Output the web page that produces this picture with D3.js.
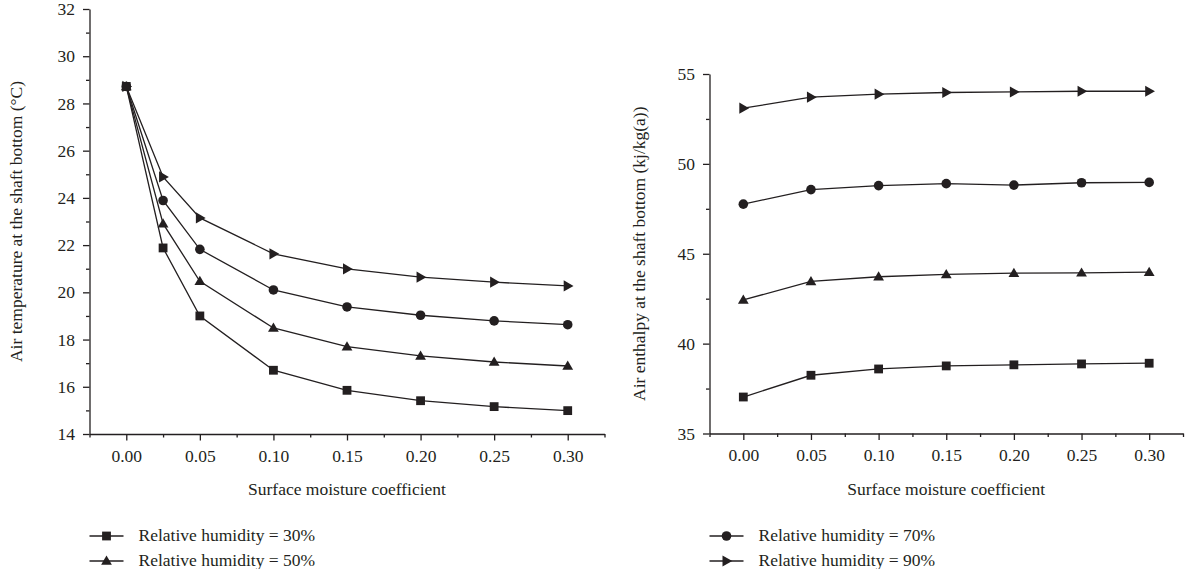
<!DOCTYPE html>
<html>
<head>
<meta charset="utf-8">
<script src="https://cdn.jsdelivr.net/npm/d3@7"></script>
<style>
  html, body { margin: 0; padding: 0; background: #fff; }
  svg { display: block; }
  text { font-family: "Liberation Serif", "Times New Roman", serif; fill: #231f20; }
</style>
</head>
<body>
<svg id="chart" width="1186" height="569"></svg>
<script>
// Surface moisture coefficient values
const moistureLeft = [0, 0.025, 0.05, 0.10, 0.15, 0.20, 0.25, 0.30];
const moistureRight = [0, 0.05, 0.10, 0.15, 0.20, 0.25, 0.30];

// Air temperature at the shaft bottom (°C)
const temp30 = [28.72, 21.88, 19.00, 16.70, 15.85, 15.41, 15.16, 14.99];
const temp50 = [28.72, 22.91, 20.47, 18.49, 17.70, 17.31, 17.05, 16.88];
const temp70 = [28.72, 23.89, 21.82, 20.10, 19.38, 19.03, 18.79, 18.63];
const temp90 = [28.72, 24.89, 23.15, 21.63, 20.99, 20.64, 20.43, 20.27];

// Air enthalpy at the shaft bottom (kj/kg(a))
const enth30 = [37.03, 38.24, 38.59, 38.76, 38.82, 38.87, 38.91];
const enth50 = [42.43, 43.46, 43.72, 43.85, 43.92, 43.94, 43.98];
const enth70 = [47.76, 48.57, 48.79, 48.90, 48.82, 48.95, 48.97];
const enth90 = [53.10, 53.71, 53.88, 53.97, 54.00, 54.04, 54.04];

const xTicks = [0, 0.05, 0.10, 0.15, 0.20, 0.25, 0.30];
const tempTicks = [14, 16, 18, 20, 22, 24, 26, 28, 30, 32];
const enthTicks = [35, 40, 45, 50, 55];

const seriesNames = ["Relative humidity = 30%", "Relative humidity = 50%",
                     "Relative humidity = 70%", "Relative humidity = 90%"];
const markerKinds = ["square", "triangle", "circle", "triangleRight"];

const svg = d3.select("#chart");
const ink = "#231f20";
const fontSize = 17.5;

function drawMarker(g, kind, x, y) {
  if (kind === "square") {
    g.append("rect").attr("x", x - 4.4).attr("y", y - 4.4)
      .attr("width", 8.8).attr("height", 8.8).attr("fill", ink);
  } else if (kind === "circle") {
    g.append("circle").attr("cx", x).attr("cy", y).attr("r", 4.8).attr("fill", ink);
  } else if (kind === "triangle") {
    g.append("path")
      .attr("d", `M${x},${y - 5.4}L${x + 5.4},${y + 3.8}L${x - 5.4},${y + 3.8}Z`)
      .attr("fill", ink);
  } else {
    g.append("path")
      .attr("d", `M${x + 5.8},${y}L${x - 4},${y - 5.6}L${x - 4},${y + 5.6}Z`)
      .attr("fill", ink);
  }
}

function panel(opts) {
  const { left, right, top, bottom, yDomain, yTicks, yMinor, xs, series, yTitle, yTitleX } = opts;
  const x = d3.scaleLinear().domain([-0.025, 0.325]).range([left, right]);
  const y = d3.scaleLinear().domain(yDomain).range([bottom, top]);
  const g = svg.append("g");

  // minor ticks
  const xMinor = d3.range(-0.025, 0.33, 0.05);
  g.append("g").attr("transform", `translate(0,${bottom})`)
    .call(d3.axisBottom(x).tickValues(xMinor).tickSize(3.5).tickFormat(""))
    .call(a => a.select(".domain").remove());
  g.append("g").attr("transform", `translate(${left},0)`)
    .call(d3.axisLeft(y).tickValues(yMinor).tickSize(3.5).tickFormat(""))
    .call(a => a.select(".domain").remove());

  // major axes
  const xa = g.append("g").attr("transform", `translate(0,${bottom})`)
    .call(d3.axisBottom(x).tickValues(xTicks).tickSize(6.5).tickSizeOuter(0)
      .tickPadding(9).tickFormat(d3.format(".2f")));
  const ya = g.append("g").attr("transform", `translate(${left},0)`)
    .call(d3.axisLeft(y).tickValues(yTicks).tickSize(6.5).tickSizeOuter(0)
      .tickPadding(8).tickFormat(d3.format("d")));
  [xa, ya].forEach(a => {
    a.selectAll("line, path").attr("stroke", ink).attr("stroke-width", 1.3);
    a.selectAll("text").attr("font-size", fontSize)
      .attr("font-family", "Liberation Serif, serif").attr("fill", ink);
  });
  g.selectAll(".tick line").attr("stroke", ink).attr("stroke-width", 1.3);

  // axis titles
  g.append("text")
    .attr("x", (left + right) / 2).attr("y", bottom + 61)
    .attr("text-anchor", "middle").attr("font-size", fontSize)
    .text("Surface moisture coefficient");
  g.append("text")
    .attr("transform", `translate(${yTitleX},${(top + bottom) / 2}) rotate(-90)`)
    .attr("text-anchor", "middle").attr("font-size", fontSize)
    .text(yTitle);

  // series lines and markers
  const line = d3.line().x((d, i) => x(xs[i])).y(d => y(d));
  series.forEach(s => {
    g.append("path").datum(s.values).attr("d", line)
      .attr("fill", "none").attr("stroke", ink).attr("stroke-width", 1.3);
  });
  series.forEach(s => {
    s.values.forEach((v, i) => drawMarker(g, s.kind, x(xs[i]), y(v)));
  });

  // legend
  opts.legend.forEach((idx, row) => {
    const ly = 536 + row * 25;
    const lx = left;
    g.append("line").attr("x1", lx).attr("x2", lx + 34).attr("y1", ly).attr("y2", ly)
      .attr("stroke", ink).attr("stroke-width", 1.3);
    drawMarker(g, markerKinds[idx], lx + 17, ly);
    g.append("text").attr("x", lx + 49).attr("y", ly + 5)
      .attr("font-size", fontSize).text(seriesNames[idx]);
  });
}

panel({
  left: 89.5, right: 604.5, top: 9, bottom: 434,
  yDomain: [14, 32], yTicks: tempTicks, yMinor: d3.range(15, 32, 2),
  xs: moistureLeft,
  series: [
    { values: temp30, kind: "square" },
    { values: temp50, kind: "triangle" },
    { values: temp70, kind: "circle" },
    { values: temp90, kind: "triangleRight" }
  ],
  yTitle: "Air temperature at the shaft bottom (°C)", yTitleX: 22,
  legend: [0, 1]
});

panel({
  left: 709.5, right: 1183, top: 74, bottom: 433.5,
  yDomain: [35, 55], yTicks: enthTicks, yMinor: [37.5, 42.5, 47.5, 52.5],
  xs: moistureRight,
  series: [
    { values: enth30, kind: "square" },
    { values: enth50, kind: "triangle" },
    { values: enth70, kind: "circle" },
    { values: enth90, kind: "triangleRight" }
  ],
  yTitle: "Air enthalpy at the shaft bottom (kj/kg(a))", yTitleX: 645,
  legend: [2, 3]
});
</script>
</body>
</html>
